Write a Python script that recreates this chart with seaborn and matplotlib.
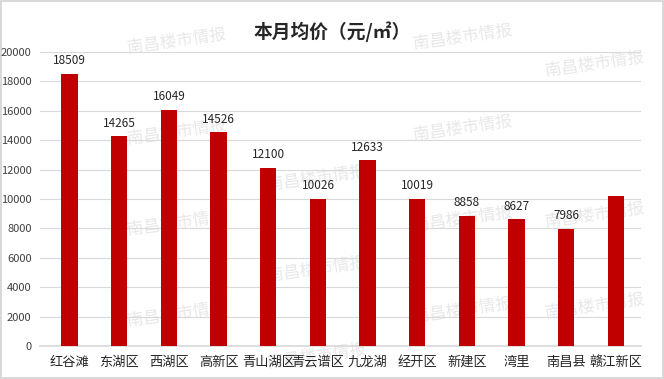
import pandas as pd
import matplotlib.pyplot as plt
import seaborn as sns

districts = ["红谷滩", "东湖区", "西湖区", "高新区", "青山湖区", "青云谱区",
             "九龙湖", "经开区", "新建区", "湾里", "南昌县", "赣江新区"]
prices = [18509, 14265, 16049, 14526, 12100, 10026, 12633, 10019, 8858, 8627, 7986, 10220]
labeled = [True] * 11 + [False]

df = pd.DataFrame({"district": districts, "price": prices})

sns.set_theme(style="white")
plt.rcParams["font.family"] = ["Noto Sans CJK SC", "DejaVu Sans"]

fig = plt.figure(figsize=(6.64, 3.79), dpi=100)
fig.patch.set_edgecolor("#d9d9d9")
fig.patch.set_linewidth(1.5)
ax = fig.add_axes([0.06, 0.087, 0.905, 0.776])
ax.set_zorder(1)

# faint watermark behind the bars, kept inside the canvas
marks = [(0.19, 0.86), (0.62, 0.87), (0.82, 0.80), (0.19, 0.62), (0.62, 0.63),
         (0.40, 0.50), (0.82, 0.40), (0.19, 0.38), (0.62, 0.39), (0.40, 0.26),
         (0.19, 0.14), (0.62, 0.15), (0.82, 0.16), (0.40, 0.03)]
for x, y in marks:
    fig.text(x, y, "南昌楼市情报", fontsize=12, color="#e8e8e8",
             rotation=8, zorder=0)

sns.barplot(data=df, x="district", y="price", color="#c00000", width=0.33,
            saturation=1, linewidth=0, ax=ax, zorder=3)

for p, v, show in zip(ax.patches, prices, labeled):
    if show:
        ax.text(p.get_x() + p.get_width() / 2, v + 450, str(v), ha="center",
                va="bottom", fontsize=8.5, color="#262626")

ax.set_ylim(0, 20000)
ax.set_yticks(range(0, 20001, 2000))
ax.yaxis.grid(True, color="#d9d9d9", linewidth=0.8, zorder=0)
ax.set_axisbelow(True)
for s in ["top", "right", "left"]:
    ax.spines[s].set_visible(False)
ax.spines["bottom"].set_color("#d9d9d9")
ax.set_xlabel("")
ax.set_ylabel("")
ax.tick_params(axis="y", labelsize=8, labelcolor="#404040", length=0, pad=6)
ax.tick_params(axis="x", labelsize=9.5, labelcolor="#262626", length=0, pad=7)
ax.set_xlim(-0.6, 11.5)
ax.patch.set_alpha(0)

fig.text(0.5, 0.90, "本月均价（元/㎡）", ha="center", fontsize=13.5, fontweight="bold",
         color="#262626")

plt.savefig("out.png", dpi=100, edgecolor=fig.get_edgecolor())
plt.close()
